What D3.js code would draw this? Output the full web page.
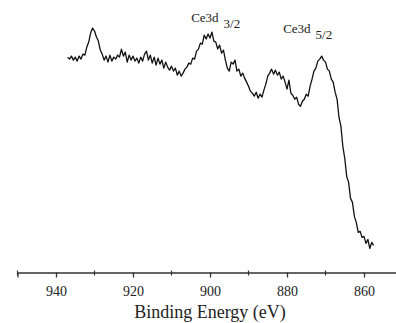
<!DOCTYPE html>
<html>
<head>
<meta charset="utf-8">
<script src="https://cdn.jsdelivr.net/npm/d3@7"></script>
<style>
  body { margin: 0; background: #fff; }
  svg { display: block; }
  svg text { font-family: "Liberation Serif", "Times New Roman", serif; }
</style>
</head>
<body>
<div class="chart"></div>
<script>
// binding energy grid (eV) and XPS intensity (a.u.)
var energies = [
  937.0, 936.5, 936.0, 935.5, 935.0, 934.5, 934.0, 933.5, 933.0, 932.5,
  932.0, 931.5, 931.0, 930.5, 930.0, 929.5, 929.0, 928.5, 928.0, 927.5,
  927.0, 926.5, 926.0, 925.5, 925.0, 924.5, 924.0, 923.5, 923.0, 922.5,
  922.0, 921.5, 921.0, 920.5, 920.0, 919.5, 919.0, 918.5, 918.0, 917.5,
  917.0, 916.5, 916.0, 915.5, 915.0, 914.5, 914.0, 913.5, 913.0, 912.5,
  912.0, 911.5, 911.0, 910.5, 910.0, 909.5, 909.0, 908.5, 908.0, 907.5,
  907.0, 906.5, 906.0, 905.5, 905.0, 904.5, 904.0, 903.5, 903.0, 902.5,
  902.0, 901.5, 901.0, 900.5, 900.0, 899.5, 899.0, 898.5, 898.0, 897.5,
  897.0, 896.5, 896.0, 895.5, 895.0, 894.5, 894.0, 893.5, 893.0, 892.5,
  892.0, 891.5, 891.0, 890.5, 890.0, 889.5, 889.0, 888.5, 888.0, 887.5,
  887.0, 886.5, 886.0, 885.5, 885.0, 884.5, 884.0, 883.5, 883.0, 882.5,
  882.0, 881.5, 881.0, 880.5, 880.0, 879.5, 879.0, 878.5, 878.0, 877.5,
  877.0, 876.5, 876.0, 875.5, 875.0, 874.5, 874.0, 873.5, 873.0, 872.5,
  872.0, 871.5, 871.0, 870.5, 870.0, 869.5, 869.0, 868.5, 868.0, 867.5,
  867.0, 866.5, 866.0, 865.5, 865.0, 864.5, 864.0, 863.5, 863.0, 862.5,
  862.0, 861.5, 861.0, 860.5, 860.0, 859.5, 859.0, 858.5, 858.0, 857.5
];
var intensity = [
  215, 213, 216, 212, 215, 211, 216, 213, 218, 217,
  225, 230, 239, 244, 241, 235, 231, 222, 218, 212,
  216, 210, 217, 211, 215, 213, 217, 215, 223, 216,
  220, 210, 217, 212, 216, 211, 214, 209, 215, 211,
  218, 221, 212, 217, 209, 215, 207, 214, 208, 212,
  204, 210, 205, 202, 206, 201, 204, 197, 201, 196,
  199, 203, 205, 209, 208, 214, 213, 221, 223, 229,
  228, 237, 233, 238, 234, 240, 231, 230, 223, 227,
  219, 222, 212, 204, 201, 210, 208, 212, 201, 203,
  196, 199, 194, 190, 186, 181, 179, 176, 180, 174,
  178, 175, 182, 188, 196, 199, 203, 198, 202, 197,
  200, 193, 196, 190, 183, 192, 179, 177, 173, 175,
  168, 166, 171, 173, 178, 176, 186, 193, 201, 204,
  211, 213, 216, 212, 210, 203, 201, 193, 190, 180,
  173, 155, 146, 126, 114, 96, 90, 74, 70, 56,
  50, 40, 41, 35, 36, 29, 33, 24, 30, 27
];
var majorTicks = [940, 920, 900, 880, 860];
var minorTicks = [950, 930, 910, 890, 870, 850];
var peakLabels = [
  { name: "Ce3d", sub: "3/2", energy: 904.9, level: 250 },
  { name: "Ce3d", sub: "5/2", energy: 881.0, level: 239 }
];

var width = 396, height = 323;
var axisY = 272.5;

var svg = d3.select(".chart")
    .append("svg")
    .attr("width", width)
    .attr("height", height);

var x = d3.scaleLinear()
    .domain([950, 850])
    .range([17.5, 402.5]);

var y = d3.scaleLinear()
    .domain([0, 272])
    .range([axisY, 0]);

var data = energies.map(function (e, i) { return { e: e, v: intensity[i] }; });

// minor ticks
svg.append("g")
    .attr("transform", "translate(0," + axisY + ")")
    .selectAll("line")
    .data(minorTicks)
    .enter()
    .append("line")
    .attr("x1", d => x(d)).attr("x2", d => x(d))
    .attr("y1", -2).attr("y2", 3)
    .attr("stroke", "#333")
    .attr("stroke-width", 1.2);

var xAxis = svg.append("g")
    .attr("transform", "translate(0," + axisY + ")")
    .call(d3.axisBottom(x)
        .tickValues(majorTicks)
        .tickSize(5)
        .tickPadding(9)
        .tickFormat(d3.format("d")));

xAxis.select(".domain")
    .attr("stroke", "#333")
    .attr("stroke-width", 1.3);
xAxis.selectAll(".tick line")
    .attr("stroke", "#333")
    .attr("stroke-width", 1.3);
xAxis.selectAll(".tick text")
    .attr("fill", "#222")
    .style("font-size", "14px");

svg.append("text")
    .attr("x", (x.range()[0] + x.range()[1]) / 2)
    .attr("y", 318)
    .attr("text-anchor", "middle")
    .attr("fill", "#222")
    .style("font-size", "18px")
    .text("Binding Energy (eV)");

svg.append("path")
    .datum(data)
    .attr("fill", "none")
    .attr("stroke", "#111")
    .attr("stroke-width", 1.3)
    .attr("stroke-linejoin", "round")
    .attr("d", d3.line().x(d => x(d.e)).y(d => y(d.v)));

var lbl = svg.append("g")
    .selectAll("text")
    .data(peakLabels)
    .enter()
    .append("text")
    .attr("x", d => x(d.energy))
    .attr("y", d => y(d.level))
    .attr("fill", "#222")
    .style("font-size", "13px");

lbl.append("tspan").text(d => d.name);
lbl.append("tspan")
    .attr("dx", 5)
    .attr("dy", 6)
    .text(d => d.sub);
</script>
</body>
</html>
